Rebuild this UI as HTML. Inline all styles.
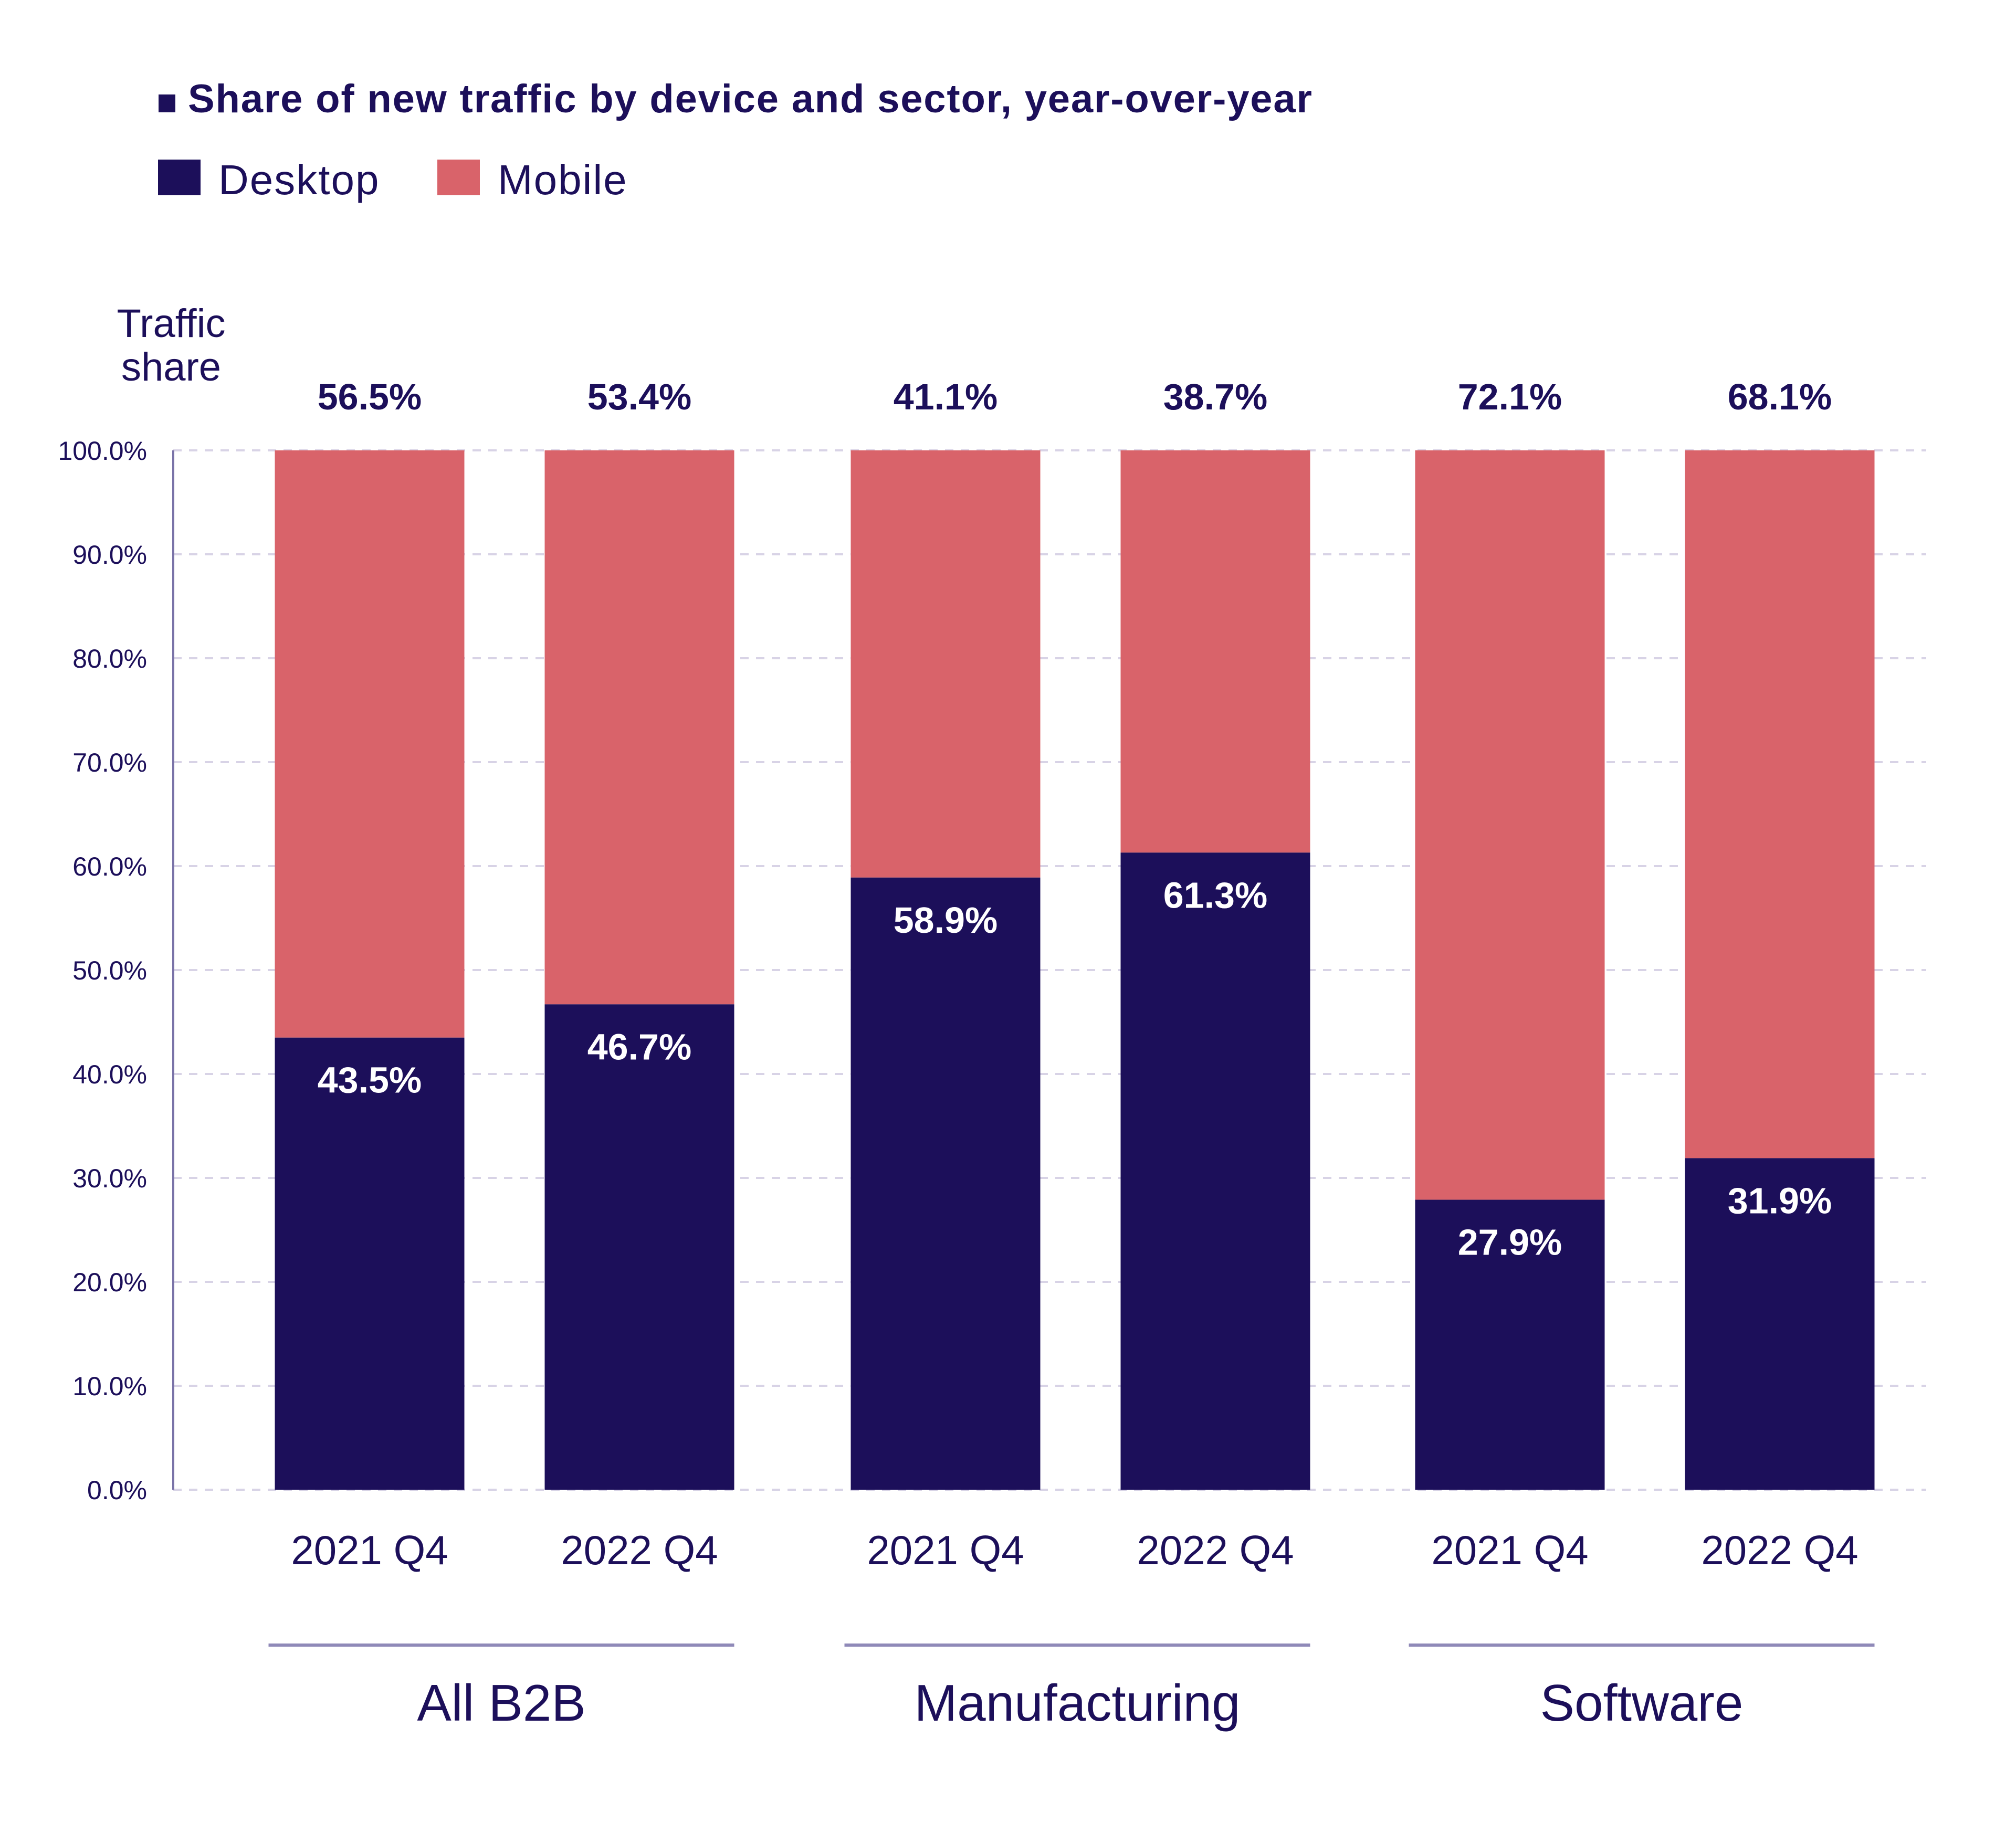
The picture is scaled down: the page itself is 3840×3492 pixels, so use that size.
<!DOCTYPE html>
<html><head><meta charset="utf-8">
<style>
html,body{margin:0;padding:0;background:#fff;}
svg{display:block;font-family:"Liberation Sans",sans-serif;}
</style></head>
<body>
<svg id="chart" width="3840" height="3492" viewBox="0 0 3840 3492" xmlns="http://www.w3.org/2000/svg">
<rect width="3840" height="3492" fill="#fff"/>
<rect x="302" y="180" width="32" height="34" fill="#1c0f5a"/>
<text x="358" y="214" font-size="76" font-weight="bold" letter-spacing="1.8" fill="#1c0f5a">Share of new traffic by device and sector, year-over-year</text>
<g>
<rect x="301" y="304" width="81" height="68" fill="#1c0f5a"/>
<text x="416" y="370" font-size="80" letter-spacing="2" fill="#1c0f5a">Desktop</text>
</g>
<g>
<rect x="833" y="304" width="81" height="68" fill="#d9636a"/>
<text x="948" y="370" font-size="80" letter-spacing="2" fill="#1c0f5a">Mobile</text>
</g>
<text x="326" y="642" font-size="76" fill="#1c0f5a" text-anchor="middle">Traffic</text>
<text x="326" y="725" font-size="76" fill="#1c0f5a" text-anchor="middle">share</text>
<g id="grid"></g>
<line x1="330" y1="858" x2="330" y2="2838" stroke="#7a73a8" stroke-width="4"/>
<g id="bars"></g>
<g id="labels"></g>
</svg>
<script>
const categories = ["2021 Q4","2022 Q4","2021 Q4","2022 Q4","2021 Q4","2022 Q4"];
const desktopValues = [43.5, 46.7, 58.9, 61.3, 27.9, 31.9];
const mobileValues = [56.5, 53.4, 41.1, 38.7, 72.1, 68.1];
const groupNames = ["All B2B","Manufacturing","Software"];
const yTicks = [0,10,20,30,40,50,60,70,80,90,100];

const NS="http://www.w3.org/2000/svg";
const y0=2838, y100=858, xLeft=330, xRight=3669;
const groupStarts=[704,1801,2876], pairGap=514, barW=361;
function yScale(v){return y0-(v/100)*(y0-y100);}
function xCenter(i){const g=Math.floor(i/2), k=i%2;return groupStarts[g]+k*pairGap;}
function mk(tag,attrs,parent){const e=document.createElementNS(NS,tag);for(const k in attrs)e.setAttribute(k,attrs[k]);parent.appendChild(e);return e;}
const grid=document.getElementById('grid'),bars=document.getElementById('bars'),labels=document.getElementById('labels');

yTicks.forEach(t=>{
  const y=yScale(t);
  const l=mk('line',{x1:xLeft,x2:xRight,y1:y,y2:y,stroke:'#d8d3e6','stroke-width':4,'stroke-dasharray':'16 14'},grid);
  
  
  const tx=mk('text',{x:280,y:y+18,'font-size':50,fill:'#1c0f5a','text-anchor':'end'},grid);
  tx.textContent=t.toFixed(1)+'%';
  
  
});

categories.forEach((c,i)=>{
  const cx=xCenter(i), x=cx-barW/2;
  const d=desktopValues[i], m=mobileValues[i];
  const yd=yScale(d);
  const rm=mk('rect',{x:x,y:y100,width:barW,height:yd-y100,fill:'#d9636a'},bars);
  
  
  const rd=mk('rect',{x:x,y:yd,width:barW,height:y0-yd,fill:'#1c0f5a'},bars);
  
  
  const tm=mk('text',{x:cx,y:y100-78,'font-size':70,'font-weight':'bold',fill:'#1c0f5a','text-anchor':'middle'},labels);
  tm.textContent=m.toFixed(1)+'%';
  
  
  const td=mk('text',{x:cx,y:yd+105,'font-size':70,'font-weight':'bold',fill:'#ffffff','text-anchor':'middle'},labels);
  td.textContent=d.toFixed(1)+'%';
  
  
  const tc=mk('text',{x:cx,y:2980,'font-size':78,fill:'#1c0f5a','text-anchor':'middle'},labels);
  tc.textContent=c;
  
  
});

groupNames.forEach((g,gi)=>{
  const a=xCenter(gi*2)-barW/2-12, b=xCenter(gi*2+1)+barW/2;
  const ln=mk('line',{x1:a,x2:b,y1:3134,y2:3134,stroke:'#8f89b8','stroke-width':6},labels);
  
  
  const t=mk('text',{x:(a+b)/2,y:3278,'font-size':98,fill:'#1c0f5a','text-anchor':'middle'},labels);
  t.textContent=g;
  
  
});
</script>
</body></html>
